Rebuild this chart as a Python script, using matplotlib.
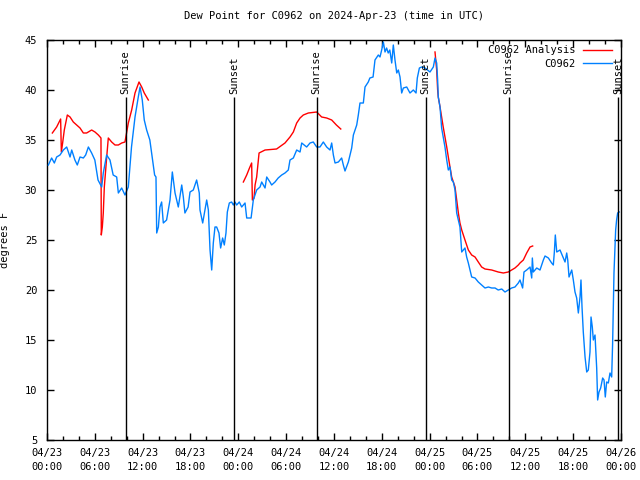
import numpy as np
import pandas as pd
import matplotlib
matplotlib.use('Agg')
import matplotlib.pyplot as plt
import matplotlib.dates as mdates

plt.rcParams['font.family'] = 'DejaVu Sans Mono'
plt.rcParams['font.size'] = 7.5

base = pd.Timestamp('2024-04-23 00:00')

# observed dew point (hours since 04/23 00:00 UTC, deg F)
obs_hours = [0.17, 0.58, 0.92, 1.21, 1.63, 2.05, 2.47, 2.89, 3.1, 3.5, 3.8, 4.14, 4.56, 4.85, 5.19,
             5.6, 6.0, 6.4, 6.86, 7.06, 7.48, 7.9, 8.3, 8.74, 8.95, 9.37, 9.78, 10.2, 10.6, 11.04,
             11.45, 11.67, 11.95, 12.2, 12.5, 12.9, 13.3, 13.5, 13.67, 13.76, 13.97, 14.17, 14.38,
             14.59, 15.0, 15.43, 15.72, 16.06, 16.47, 16.9, 17.1, 17.3, 17.7, 17.94, 18.35, 18.77,
             19.1, 19.19, 19.53, 19.82, 20.03, 20.24, 20.45, 20.66, 20.86, 21.07, 21.28, 21.57,
             21.78, 22.03, 22.24, 22.45, 22.62, 22.87, 23.16, 23.37, 23.58, 23.79, 24.12, 24.42,
             24.84, 25.05, 25.6, 25.88, 26.09, 26.3, 26.72, 26.93, 27.35, 27.56, 27.97, 28.18,
             28.6, 29.0, 29.44, 29.85, 30.27, 30.48, 30.9, 31.32, 31.74, 31.95, 32.57, 32.99,
             33.4, 33.83, 34.24, 34.66, 35.08, 35.5, 35.71, 35.92, 36.13, 36.55, 36.96, 37.17,
             37.38, 37.8, 38.22, 38.43, 38.85, 39.05, 39.26, 39.68, 39.89, 40.3, 40.5, 40.9,
             41.14, 41.56, 41.77, 41.98, 42.19, 42.4, 42.6, 42.8, 43.0, 43.24, 43.44, 43.65,
             43.87, 44.07, 44.28, 44.49, 44.7, 45.12, 45.53, 45.95, 46.29, 46.45, 46.71, 47.0,
             47.42, 48.04, 48.46, 48.67, 48.88, 49.0, 49.08, 49.3, 49.5, 49.7, 49.92, 50.14,
             50.34, 50.55, 50.76, 50.97, 51.18, 51.39, 51.6, 51.8, 52.02, 52.43, 52.64, 52.85,
             53.06, 53.27, 53.69, 54.1, 54.52, 54.94, 55.36, 55.78, 56.2, 56.6, 57.04, 57.45,
             57.86, 58.28, 58.7, 59.12, 59.33, 59.66, 59.83, 60.17, 60.59, 60.8, 60.88, 61.0,
             61.43, 61.84, 62.26, 62.47, 62.89, 63.3, 63.51, 63.64, 63.76, 63.94, 64.35, 64.77,
             64.98, 65.19, 65.32, 65.48, 65.82, 66.02, 66.23, 66.44, 66.65, 66.86, 66.98, 67.11,
             67.27, 67.49, 67.7, 67.9, 68.11, 68.24, 68.4, 68.53, 68.74, 68.95, 69.07, 69.24,
             69.45, 69.7, 69.87, 70.03, 70.2, 70.41, 70.62, 70.83, 70.95, 71.12, 71.33, 71.45,
             71.58, 71.78]
obs_vals = [32.5, 33.2, 32.7, 33.3, 33.5, 34.0, 34.3, 33.3, 34.0, 33.0, 32.5, 33.3, 33.2, 33.5, 34.3,
            33.7, 33.0, 31.0, 30.3, 31.7, 33.5, 33.0, 31.5, 31.3, 29.7, 30.2, 29.5, 30.3, 34.3, 37.3,
            39.3, 40.3, 39.0, 37.0, 36.0, 35.0, 32.7, 31.5, 31.3, 25.7, 26.3, 28.3, 28.8,
            26.7, 27.0, 29.0, 31.8, 29.7, 28.3, 30.5, 29.3, 27.7, 28.3, 29.8, 30.0, 31.0,
            29.7, 28.0, 26.7, 28.0, 29.0, 28.0, 24.0, 22.0, 24.7, 26.3, 26.3, 25.7,
            24.2, 25.2, 24.5, 25.7, 27.8, 28.7, 28.8, 28.5, 28.8, 28.5, 28.8, 28.3,
            28.7, 27.2, 27.2, 29.0, 29.5, 30.0, 30.3, 30.8, 30.2, 31.3, 30.8, 30.5,
            30.8, 31.2, 31.5, 31.7, 32.0, 33.0, 33.2, 34.0, 33.8, 34.7, 34.3, 34.7,
            34.8, 34.3, 34.3, 34.8, 34.3, 34.0, 34.7, 33.5, 32.7, 32.8, 33.2, 32.5,
            31.9, 32.8, 34.2, 35.5, 36.5, 37.5, 38.7, 38.7, 40.3, 40.8, 41.2, 41.3,
            43.0, 43.5, 43.3, 44.0, 44.8, 43.8, 44.2, 43.7, 44.0, 42.7, 44.5, 43.0,
            41.7, 42.0, 41.3, 39.7, 40.2, 40.3, 39.7, 40.0, 39.7, 41.2, 42.2, 42.3,
            42.2, 41.8, 42.3, 43.2, 42.7, 41.0, 39.3, 38.3, 36.2, 35.3, 34.3, 33.0,
            32.0, 32.3, 31.0, 30.8, 30.0, 27.7, 27.0, 26.3, 23.8, 24.2, 23.3, 22.7,
            22.0, 21.3, 21.2, 20.8, 20.5, 20.2, 20.3, 20.2, 20.2, 20.0, 20.1, 19.8,
            20.0, 20.2, 20.3, 20.7, 21.0, 20.2, 21.8, 22.0, 22.3, 21.2, 23.2, 21.8,
            22.2, 22.0, 23.0, 23.4, 23.2, 22.7, 22.5, 23.8, 25.5, 23.8, 24.0, 23.2,
            22.8, 23.7, 23.0, 21.3, 22.0, 21.0, 19.8, 19.2, 17.7, 19.3, 21.0, 18.3,
            15.8, 13.3, 11.8, 12.0, 13.8, 17.3, 16.3, 15.0, 15.5, 12.2, 9.0, 9.8,
            10.2, 11.2, 11.0, 9.3, 10.8, 10.7, 11.7, 11.3, 14.7, 21.7, 26.0, 27.0,
            27.7, 27.8]

# analysis dew point, NaN marks the gaps between runs
ana_hours = [0.67, 1.21, 1.71, 1.8, 1.96, 2.17, 2.55, 2.89, 3.3, 3.72, 4.14, 4.56, 4.97, 5.6, 6.02,
             6.44, 6.77, 6.81, 6.94, 7.06, 7.19, 7.36, 7.49, 7.69, 8.11, 8.53, 8.95, 9.37, 9.78,
             10.2, 10.62, 11.04, 11.54, 11.88, 12.2, 12.71, 18.0,
             24.63, 25.05, 25.4, 25.67, 25.76, 25.97, 26.1, 26.3, 26.6, 27.35, 28.8, 29.85, 30.48,
             30.9, 31.32, 31.74, 32.15, 32.78, 33.83, 34.45, 35.08, 35.71, 36.3, 36.85, 42.0,
             48.67, 48.88, 49.0, 49.08, 49.3, 49.5, 49.7, 49.92, 50.14, 50.34, 50.55, 50.76,
             51.18, 51.39, 51.6, 51.8, 52.02, 52.43, 52.85, 53.27, 53.69, 54.1, 54.52, 54.94,
             55.78, 56.6, 57.24, 57.86, 58.28, 58.7, 59.12, 59.33, 59.75, 60.17, 60.59, 60.92]
ana_vals = [35.7, 36.3, 37.1, 33.8, 34.7, 36.0, 37.5, 37.3, 36.8, 36.5, 36.2, 35.7, 35.7, 36.0, 35.8,
            35.5, 35.2, 25.5, 26.3, 27.7, 30.3, 32.0, 33.3, 35.2, 34.8, 34.5, 34.5, 34.7, 34.8,
            36.7, 38.0, 39.7, 40.8, 40.3, 39.7, 39.0, np.nan,
            30.8, 31.5, 32.2, 32.7, 29.0, 29.2, 30.5, 31.3, 33.7, 34.0, 34.1, 34.7, 35.3,
            35.8, 36.7, 37.2, 37.5, 37.7, 37.8, 37.3, 37.2, 37.0, 36.5, 36.1, np.nan,
            43.8, 42.0, 40.0, 39.3, 38.3, 37.3, 36.3, 35.3, 34.3, 33.3, 32.3, 31.3,
            30.3, 29.0, 27.7, 26.7, 26.0, 25.0, 24.0, 23.5, 23.3, 22.8, 22.3, 22.1,
            22.0, 21.8, 21.7, 21.8, 22.0, 22.2, 22.5, 22.7, 23.0, 23.7, 24.3, 24.4]

# sunrise / sunset times (hours since 04/23 00:00 UTC)
event_hours = [9.85, 23.43, 33.83, 47.5, 57.9, 71.6]
event_names = ['Sunrise', 'Sunset', 'Sunrise', 'Sunset', 'Sunrise', 'Sunset']

obs_t = base + pd.to_timedelta(obs_hours, unit='h')
ana_t = base + pd.to_timedelta(ana_hours, unit='h')
event_t = base + pd.to_timedelta(event_hours, unit='h')

fig = plt.figure(figsize=(6.4, 4.8), dpi=100)
ax = fig.add_axes([47 / 640, 40 / 480, 574 / 640, 400 / 480])

ax.plot(ana_t, ana_vals, color='#ff0000', linewidth=1.0, label='C0962 Analysis', zorder=2)
ax.plot(obs_t, obs_vals, color='#0080ff', linewidth=1.0, label='C0962', zorder=3)

# sunrise / sunset markers
ax.vlines(event_t, 5, 39.25, color='black', linewidth=1.0, zorder=4)
for t, name in zip(event_t, event_names):
    ax.text(t, 39.55, name, rotation=90, ha='center', va='bottom', fontsize=7.5)

ax.set_xlim(base, base + pd.Timedelta(hours=72))
ax.set_ylim(5, 45)
ax.set_yticks(range(5, 50, 5))

ax.xaxis.set_major_locator(mdates.HourLocator(byhour=range(0, 24, 6)))
ax.xaxis.set_minor_locator(mdates.HourLocator(interval=2))
ax.xaxis.set_major_formatter(mdates.DateFormatter('%m/%d\n%H:%M'))
ax.tick_params(which='both', direction='in', top=True, right=True, width=1.0)
ax.tick_params(which='major', length=5, pad=6)
ax.tick_params(which='minor', length=3)
ax.tick_params(axis='y', pad=7)
for lab in ax.get_xticklabels():
    lab.set_linespacing(1.45)
for s in ax.spines.values():
    s.set_linewidth(1.0)

ax.set_ylabel('degrees F')
ax.yaxis.set_label_coords(-0.064, 0.5)
ax.set_title('Dew Point for C0962 on 2024-Apr-23 (time in UTC)', fontsize=7.5, pad=15)

ax.legend(loc='upper right', bbox_to_anchor=(0.995, 1.002), frameon=False, markerfirst=False,
          handlelength=2.8, borderaxespad=0.2, labelspacing=0.3, handletextpad=0.7, fontsize=7.5)

fig.savefig('out.png', dpi=100)
